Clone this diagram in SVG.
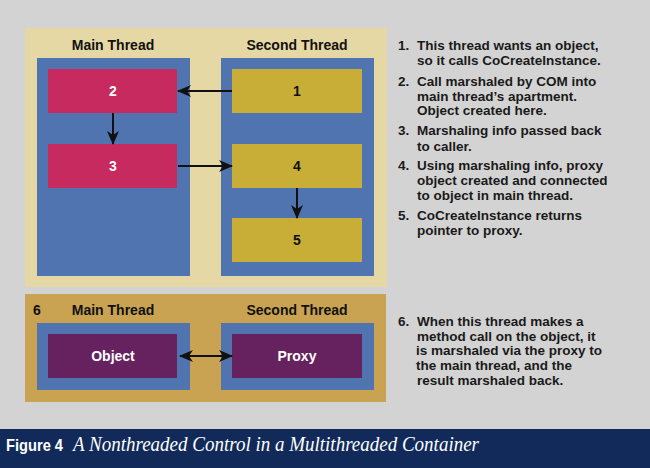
<svg xmlns="http://www.w3.org/2000/svg" width="650" height="468" viewBox="0 0 650 468">
<defs>
<style>
.lbl{font-family:"Liberation Sans",Arial,sans-serif;font-weight:bold;font-size:14px;fill:#111;}
.num{font-family:"Liberation Sans",Arial,sans-serif;font-weight:bold;font-size:14px;text-anchor:middle;}
.note{font-family:"Liberation Sans",Arial,sans-serif;font-weight:bold;font-size:13.5px;fill:#1a1a1a;}
.blue{fill:#4f74b0;}
.mag{fill:#c62a5e;}
.yel{fill:#c8ae36;}
.pur{fill:#66225e;}
.conn{stroke:#111;stroke-width:2;fill:none;}
</style>
<marker id="ah" viewBox="0 0 14 12" refX="13" refY="6" markerWidth="14" markerHeight="12" markerUnits="userSpaceOnUse" orient="auto-start-reverse">
<path d="M0,0 L14,6 L0,12 L4,6 Z" fill="#111"/>
</marker>
</defs>
<rect width="650" height="468" fill="#d3d3d3"/>

<g id="panel-top">
<rect x="25" y="28" width="362" height="259" fill="#e6d8a4"/>
<text class="lbl" x="113" y="50" text-anchor="middle">Main Thread</text>
<text class="lbl" x="297" y="50" text-anchor="middle">Second Thread</text>
<rect class="blue" x="37" y="58" width="153" height="218"/>
<rect class="blue" x="221" y="58" width="153" height="218"/>
</g>
<g id="node-2"><rect class="mag" x="48" y="69" width="129" height="44"/><text class="num" x="113" y="96" fill="#fff">2</text></g>
<g id="node-3"><rect class="mag" x="48" y="144" width="129" height="44"/><text class="num" x="113" y="171" fill="#fff">3</text></g>
<g id="node-1"><rect class="yel" x="232" y="69" width="130" height="44"/><text class="num" x="297" y="96" fill="#111">1</text></g>
<g id="node-4"><rect class="yel" x="232" y="144" width="130" height="44"/><text class="num" x="297" y="171" fill="#111">4</text></g>
<g id="node-5"><rect class="yel" x="232" y="218" width="130" height="44"/><text class="num" x="297" y="245" fill="#111">5</text></g>

<g id="panel-bottom">
<rect x="25" y="294" width="361" height="108" fill="#c9a352"/>
<text class="lbl" x="33" y="315">6</text>
<text class="lbl" x="113" y="315" text-anchor="middle">Main Thread</text>
<text class="lbl" x="297" y="315" text-anchor="middle">Second Thread</text>
<rect class="blue" x="37" y="323" width="153" height="67"/>
<rect class="blue" x="221" y="323" width="153" height="67"/>
</g>
<g id="node-object"><rect class="pur" x="48" y="334" width="129" height="44"/><text class="num" x="113" y="361" fill="#fff">Object</text></g>
<g id="node-proxy"><rect class="pur" x="232" y="334" width="130" height="44"/><text class="num" x="297" y="361" fill="#fff">Proxy</text></g>

<g id="connectors">
<line class="conn" x1="232" y1="91" x2="178" y2="91" marker-end="url(#ah)"/>
<line class="conn" x1="113" y1="113" x2="113" y2="144" marker-end="url(#ah)"/>
<line class="conn" x1="178" y1="166" x2="232" y2="166" marker-end="url(#ah)"/>
<line class="conn" x1="297" y1="188" x2="297" y2="218" marker-end="url(#ah)"/>
<line class="conn" x1="180" y1="356" x2="232" y2="356" stroke-width="1.5" marker-start="url(#ah)" marker-end="url(#ah)"/>
</g>

<g id="notes">
<text class="note" x="398" y="50">1.</text><text class="note" x="417" y="50">This thread wants an object,</text>
<text class="note" x="417" y="65">so it calls CoCreateInstance.</text>
<text class="note" x="398" y="86">2.</text><text class="note" x="417" y="86">Call marshaled by COM into</text>
<text class="note" x="417" y="101">main thread’s apartment.</text>
<text class="note" x="417" y="115">Object created here.</text>
<text class="note" x="398" y="135">3.</text><text class="note" x="417" y="135">Marshaling info passed back</text>
<text class="note" x="417" y="151">to caller.</text>
<text class="note" x="398" y="170">4.</text><text class="note" x="417" y="170">Using marshaling info, proxy</text>
<text class="note" x="417" y="185">object created and connected</text>
<text class="note" x="417" y="200">to object in main thread.</text>
<text class="note" x="398" y="220">5.</text><text class="note" x="417" y="220">CoCreateInstance returns</text>
<text class="note" x="417" y="235">pointer to proxy.</text>
<text class="note" x="398" y="326">6.</text><text class="note" x="417" y="326">When this thread makes a</text>
<text class="note" x="417" y="341">method call on the object, it</text>
<text class="note" x="416" y="355">is marshaled via the proxy to</text>
<text class="note" x="416" y="370">the main thread, and the</text>
<text class="note" x="417" y="385">result marshaled back.</text>
</g>

<g id="caption">
<rect x="0" y="429" width="650" height="39" fill="#112a5a"/>
<text x="6" y="451" font-family="'Liberation Sans',Arial,sans-serif" font-weight="bold" font-size="17" fill="#fff" textLength="57" lengthAdjust="spacingAndGlyphs">Figure 4</text>
<text x="73" y="451" font-family="'Liberation Serif','Times New Roman',serif" font-style="italic" font-size="22" fill="#fff" textLength="406" lengthAdjust="spacingAndGlyphs">A Nonthreaded Control in a Multithreaded Container</text>
</g>
</svg>
